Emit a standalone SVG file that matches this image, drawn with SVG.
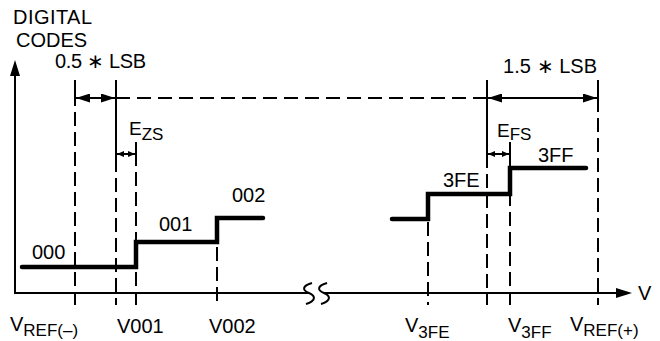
<svg xmlns="http://www.w3.org/2000/svg" width="660" height="341" viewBox="0 0 660 341">
<defs>
<style>
.ax{stroke:#000;stroke-width:2;fill:none}
.sol{stroke:#000;stroke-width:2;fill:none}
.dash{stroke:#000;stroke-width:2;fill:none;stroke-dasharray:14 6}
.hd{stroke:#000;stroke-width:2;fill:none;stroke-dasharray:14 7}
.step{stroke:#000;stroke-width:4.5;fill:none;stroke-linecap:round;stroke-linejoin:miter}
.t{font-family:"Liberation Sans",Arial,sans-serif;font-size:20px;fill:#000}
.s{font-family:"Liberation Sans",Arial,sans-serif;font-size:17px;fill:#000}
.e{font-family:"Liberation Sans",Arial,sans-serif;font-size:19px;fill:#000}
</style>
<marker id="ah" viewBox="0 0 14 9" refX="14" refY="4.5" markerWidth="14" markerHeight="9" markerUnits="userSpaceOnUse" orient="auto-start-reverse">
<path d="M0,0 L14,4.5 L0,9 Z" fill="#000"/>
</marker>
<marker id="ahs" viewBox="0 0 7 6" refX="7" refY="3" markerWidth="7" markerHeight="6" markerUnits="userSpaceOnUse" orient="auto-start-reverse">
<path d="M0,0 L7,3 L0,6 Z" fill="#000"/>
</marker>
</defs>

<g id="axes">
<line class="ax" x1="15" y1="293" x2="15" y2="72"/>
<polygon points="15,60 10,76 20,76" fill="#000"/>
<line class="ax" x1="14" y1="293" x2="309" y2="293"/>
<path class="ax" d="M312,283 C302,286 302,290 309,293 C316,296 316,301 306,304"/>
<path class="ax" d="M327,283 C317,286 317,290 324,293 C331,296 331,301 321,304"/>
<line class="ax" x1="324" y1="293" x2="620" y2="293"/>
<polygon points="632,293 616,288 616,298" fill="#000"/>
</g>

<g id="guides">
<line class="sol" x1="75" y1="80" x2="75" y2="106"/>
<line class="dash" x1="75" y1="112" x2="75" y2="305"/>
<line class="sol" x1="116" y1="80" x2="116" y2="172"/>
<line class="dash" x1="116" y1="178" x2="116" y2="305"/>
<line class="sol" x1="136" y1="142" x2="136" y2="166"/>
<line class="dash" x1="136" y1="172" x2="136" y2="305"/>
<line class="dash" x1="217" y1="247" x2="217" y2="305"/>
<line class="dash" x1="428" y1="222" x2="428" y2="305"/>
<line class="sol" x1="487" y1="80" x2="487" y2="168"/>
<line class="dash" x1="487" y1="174" x2="487" y2="305"/>
<line class="sol" x1="510" y1="142" x2="510" y2="166"/>
<line class="dash" x1="510" y1="172" x2="510" y2="305"/>
<line class="sol" x1="598" y1="80" x2="598" y2="112"/>
<line class="dash" x1="598" y1="118" x2="598" y2="305"/>
<line class="hd" x1="116" y1="98" x2="487" y2="98"/>
</g>

<g id="dimensions">
<line class="sol" x1="76" y1="98" x2="115" y2="98" marker-start="url(#ah)" marker-end="url(#ah)"/>
<line class="sol" x1="488" y1="98" x2="597" y2="98" marker-start="url(#ah)" marker-end="url(#ah)"/>
<line class="sol" x1="117" y1="154" x2="135" y2="154" marker-start="url(#ahs)" marker-end="url(#ahs)"/>
<line class="sol" x1="488" y1="154" x2="509" y2="154" marker-start="url(#ahs)" marker-end="url(#ahs)"/>
</g>

<g id="transfer">
<path class="step" d="M22,267 H136 V242 H217 V218 H263"/>
<path class="step" d="M392,219 H428 V194 H510 V168 H586"/>
</g>

<g id="labels">
<text class="t" x="13" y="24" textLength="79">DIGITAL</text>
<text class="t" x="16" y="47">CODES</text>
<text class="t" x="55" y="68" textLength="91">0.5 ∗ LSB</text>
<text class="t" x="503" y="73" textLength="94">1.5 ∗ LSB</text>
<text class="e" x="129" y="135">E<tspan class="s" dy="5">ZS</tspan></text>
<text class="e" x="497" y="137">E<tspan class="s" dy="3">FS</tspan></text>
<text class="t" x="32" y="259">000</text>
<text class="t" x="159" y="231">001</text>
<text class="t" x="232" y="202">002</text>
<text class="t" x="443" y="187">3FE</text>
<text class="t" x="538" y="162">3FF</text>
<text class="t" x="638" y="300">V</text>
<text class="t" x="10" y="331">V<tspan class="s" dy="5" font-size="16">REF(–)</tspan></text>
<text class="t" x="117" y="333">V001</text>
<text class="t" x="209" y="333">V002</text>
<text class="t" x="405" y="332">V<tspan class="s" dy="6">3FE</tspan></text>
<text class="t" x="508" y="332">V<tspan class="s" dy="6">3FF</tspan></text>
<text class="t" x="570" y="331">V<tspan class="s" dy="5" font-size="16">REF(+)</tspan></text>
</g>
</svg>
